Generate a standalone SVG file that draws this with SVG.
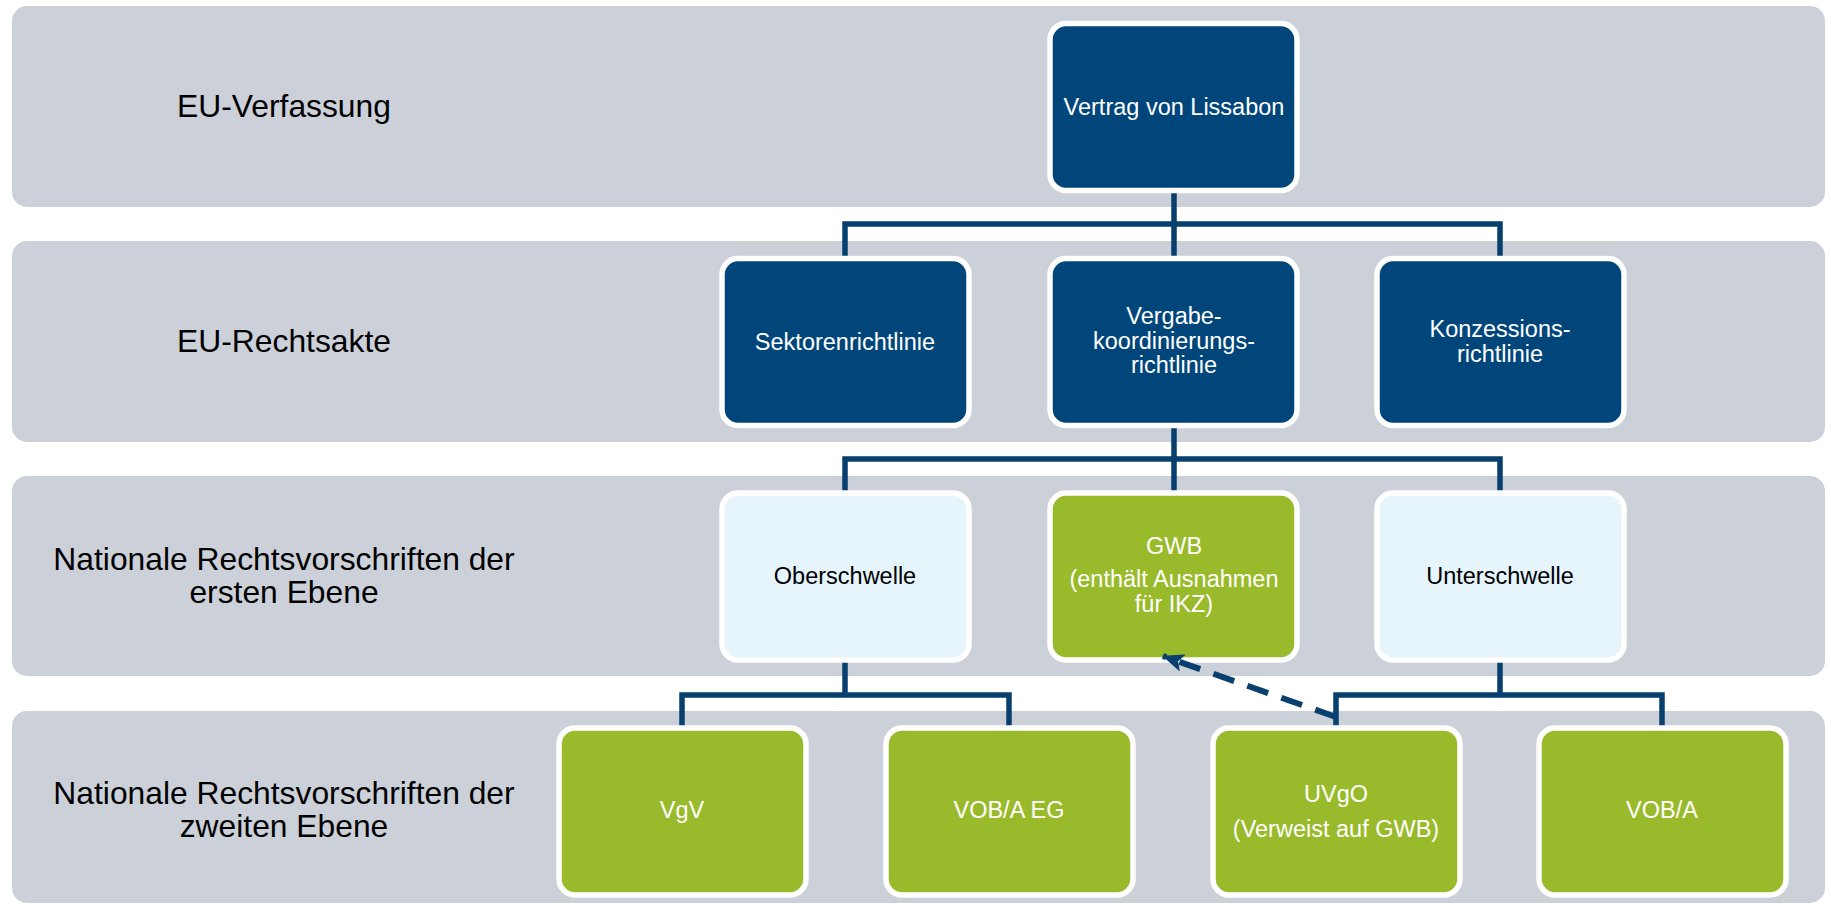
<svg xmlns="http://www.w3.org/2000/svg" width="1831" height="905" viewBox="0 0 1831 905">
<style>
.band{fill:#cbd0d9;}
.lbl{font-family:"Liberation Sans",Arial,sans-serif;font-size:31.8px;fill:#000;text-anchor:middle;}
.box{stroke:#fff;stroke-width:5.5;}
.dark{fill:#00467a;}
.green{fill:#99ba2a;}
.light{fill:#e6f4fc;}
.t{font-family:"Liberation Sans",Arial,sans-serif;font-size:23.5px;text-anchor:middle;}
.tw{fill:#fff;}
.tb{fill:#000;}
.conn{fill:none;stroke:#073f6e;stroke-width:5.5;}
.dash{fill:none;stroke:#073f6e;stroke-width:6;stroke-dasharray:22 14;}
</style>
<defs>
<marker id="ah" markerWidth="22" markerHeight="18" refX="21" refY="9" orient="auto" markerUnits="userSpaceOnUse" viewBox="0 0 22 18">
<path d="M0,0 L22,9 L0,18 L5,9 Z" fill="#073f6e"/>
</marker>
</defs>
<rect width="1831" height="905" fill="#fff"/>
<g id="bands">
<rect class="band" x="12" y="6" width="1813" height="201" rx="15"/>
<rect class="band" x="12" y="241" width="1813" height="201" rx="15"/>
<rect class="band" x="12" y="476" width="1813" height="200" rx="15"/>
<rect class="band" x="12" y="711" width="1813" height="192" rx="15"/>
</g>
<g id="labels">
<text class="lbl" x="284" y="117">EU-Verfassung</text>
<text class="lbl" x="284" y="352">EU-Rechtsakte</text>
<text class="lbl" x="284" y="570">Nationale Rechtsvorschriften der<tspan x="284" y="603">ersten Ebene</tspan></text>
<text class="lbl" x="284" y="804">Nationale Rechtsvorschriften der<tspan x="284" y="837">zweiten Ebene</tspan></text>
</g>
<g id="connectors">
<path class="conn" d="M1174,191 V258 M845,258 V224 H1500 V258"/>
<path class="conn" d="M1174,426 V493 M845,493 V459 H1500 V493"/>
<path class="conn" d="M845,660 V695 M682,728 V695 H1009 V728"/>
<path class="conn" d="M1500,660 V695 M1336,728 V695 H1662 V728"/>
</g>
<g id="n-vertrag">
<rect class="box dark" x="1050" y="23.5" width="247" height="167" rx="16"/>
<text class="t tw" x="1174" y="115">Vertrag von Lissabon</text>
</g>
<g id="n-sektoren">
<rect class="box dark" x="722" y="258.5" width="247" height="167" rx="16"/>
<text class="t tw" x="845" y="350">Sektorenrichtlinie</text>
</g>
<g id="n-vergabe">
<rect class="box dark" x="1050" y="258.5" width="247" height="167" rx="16"/>
<text class="t tw" x="1174" y="324">Vergabe-<tspan x="1174" y="348.5">koordinierungs-</tspan><tspan x="1174" y="373">richtlinie</tspan></text>
</g>
<g id="n-konzession">
<rect class="box dark" x="1377" y="258.5" width="247" height="167" rx="16"/>
<text class="t tw" x="1500" y="337">Konzessions-<tspan x="1500" y="361.5">richtlinie</tspan></text>
</g>
<g id="n-ober">
<rect class="box light" x="722" y="493" width="247" height="167" rx="16"/>
<text class="t tb" x="845" y="584">Oberschwelle</text>
</g>
<g id="n-gwb">
<rect class="box green" x="1050" y="493" width="247" height="167" rx="16"/>
<text class="t tw" x="1174" y="554">GWB<tspan x="1174" y="587">(enthält Ausnahmen</tspan><tspan x="1174" y="612">für IKZ)</tspan></text>
</g>
<g id="n-unter">
<rect class="box light" x="1377" y="493" width="247" height="167" rx="16"/>
<text class="t tb" x="1500" y="584">Unterschwelle</text>
</g>
<g id="n-vgv">
<rect class="box green" x="559" y="728" width="247" height="167" rx="16"/>
<text class="t tw" x="682" y="818">VgV</text>
</g>
<g id="n-vobaeg">
<rect class="box green" x="886" y="728" width="247" height="167" rx="16"/>
<text class="t tw" x="1009" y="818">VOB/A EG</text>
</g>
<g id="n-uvgo">
<rect class="box green" x="1213" y="728" width="247" height="167" rx="16"/>
<text class="t tw" x="1336" y="802">UVgO<tspan x="1336" y="837">(Verweist auf GWB)</tspan></text>
</g>
<g id="n-voba">
<rect class="box green" x="1539" y="728" width="247" height="167" rx="16"/>
<text class="t tw" x="1662" y="818">VOB/A</text>
</g>
<g id="reference-arrow">
<path class="dash" d="M1336,717 L1163,656" marker-end="url(#ah)"/>
</g>
</svg>
